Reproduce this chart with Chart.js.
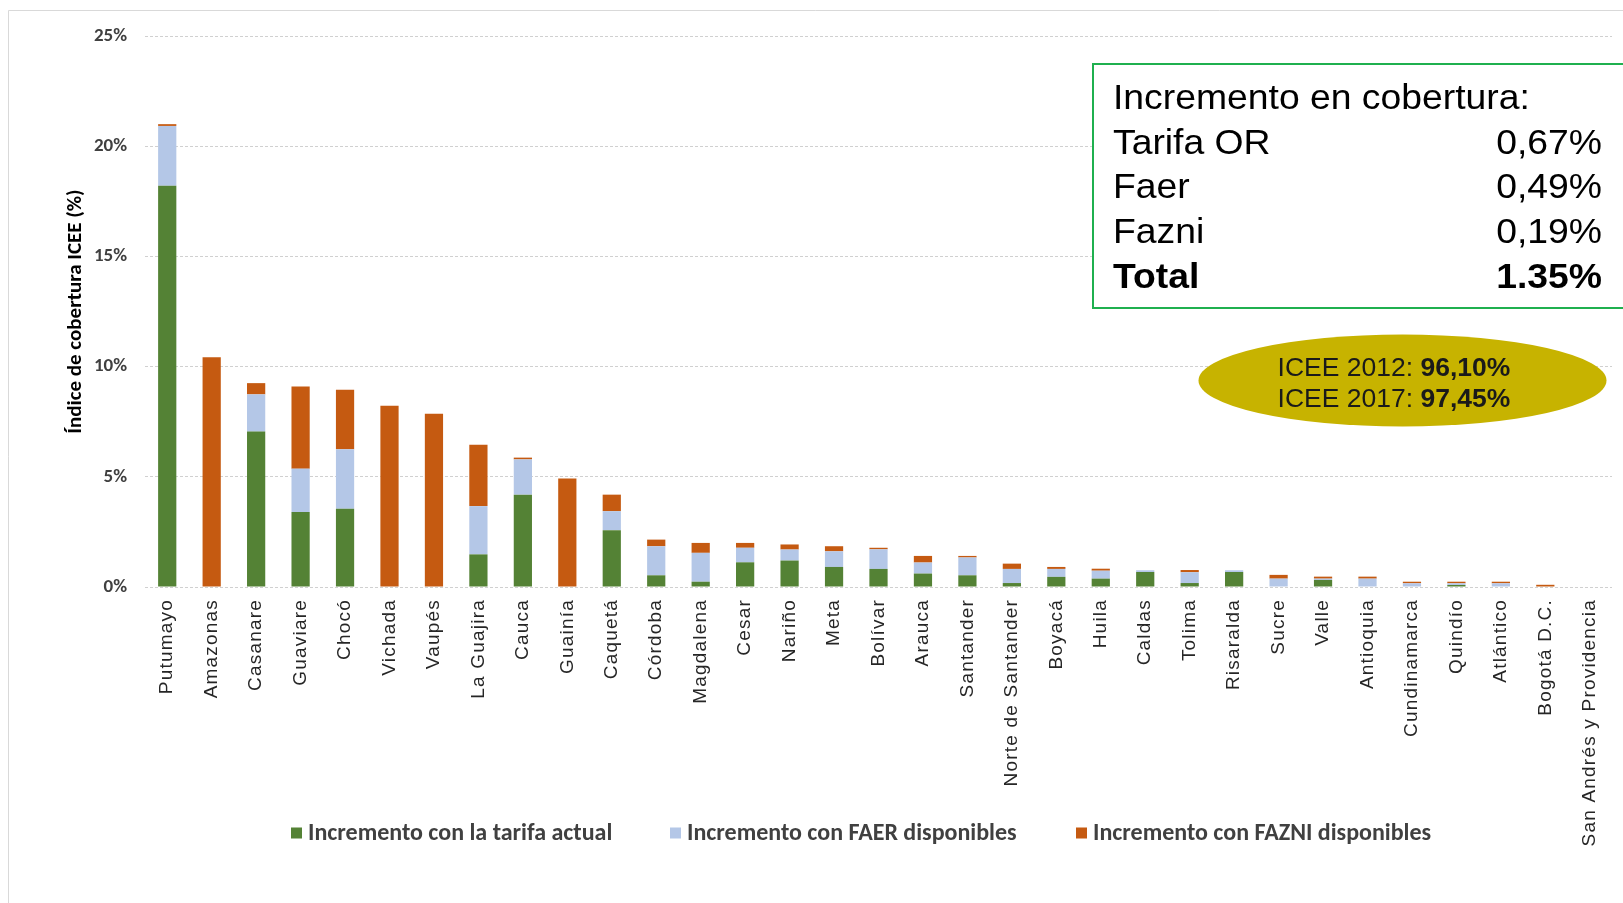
<!DOCTYPE html>
<html>
<head>
<meta charset="utf-8">
<script src="https://cdn.jsdelivr.net/npm/chart.js@4.4.1/dist/chart.umd.min.js"></script>
<style>
  html, body { margin: 0; padding: 0; background: #ffffff; }
  #wrap { width: 1623px; height: 903px; position: relative; }
</style>
</head>
<body>
<div id="wrap"><canvas id="chart"></canvas></div>
<script>
// Departamentos, ordenados por incremento total de cobertura
const categories = ['Putumayo', 'Amazonas', 'Casanare', 'Guaviare', 'Chocó', 'Vichada', 'Vaupés',
  'La Guajira', 'Cauca', 'Guainía', 'Caquetá', 'Córdoba', 'Magdalena', 'Cesar', 'Nariño', 'Meta',
  'Bolívar', 'Arauca', 'Santander', 'Norte de Santander', 'Boyacá', 'Huila', 'Caldas', 'Tolima',
  'Risaralda', 'Sucre', 'Valle', 'Antioquia', 'Cundinamarca', 'Quindío', 'Atlántico', 'Bogotá D.C.',
  'San Andrés y Providencia'];

// Incremento (puntos porcentuales) por fuente de financiación
const tarifaActual = [18.20, 0, 7.05, 3.40, 3.55, 0, 0, 1.48, 4.19, 0, 2.58, 0.53, 0.24, 1.12, 1.20, 0.91,
  0.82, 0.61, 0.53, 0.18, 0.46, 0.38, 0.68, 0.18, 0.68, 0, 0.32, 0, 0, 0.09, 0, 0, 0];
const faerDisponibles = [2.72, 0, 1.69, 1.97, 2.70, 0, 0, 2.19, 1.60, 0, 0.86, 1.32, 1.31, 0.66, 0.50, 0.71,
  0.89, 0.50, 0.81, 0.64, 0.36, 0.36, 0.08, 0.49, 0.08, 0.38, 0.06, 0.38, 0.17, 0.08, 0.17, 0, 0];
const fazniDisponibles = [0.08, 10.42, 0.51, 3.73, 2.70, 8.22, 7.86, 2.78, 0.08, 4.92, 0.75, 0.30, 0.45, 0.22, 0.23, 0.23,
  0.07, 0.30, 0.07, 0.24, 0.09, 0.09, 0, 0.10, 0, 0.17, 0.09, 0.09, 0.07, 0.07, 0.07, 0.10, 0];

const seriesNames = ['Incremento con la tarifa actual', 'Incremento con FAER disponibles', 'Incremento con FAZNI disponibles'];
const seriesColors = ['#548235', '#b4c7e7', '#c55a11'];

const yMin = 0, yMax = 25, yStep = 5;

// Recuadro de resumen
const summaryTitle = 'Incremento en cobertura:';
const summaryLabels = ['Tarifa OR', 'Faer', 'Fazni', 'Total'];
const summaryValues = ['0,67%', '0,49%', '0,19%', '1.35%'];

// Óvalo ICEE
const iceeLabels = ['ICEE 2012: ', 'ICEE 2017: '];
const iceeValues = ['96,10%', '97,45%'];

const uiFont = 'Carlito, Lato, "Open Sans", sans-serif';
const arialFont = '"Liberation Sans", Arial, sans-serif';

const decorations = {
  id: 'decorations',
  beforeDraw(chart) {
    const ctx = chart.ctx;
    ctx.save();
    ctx.fillStyle = '#ffffff';
    ctx.fillRect(0, 0, chart.width, chart.height);
    // marco exterior
    ctx.strokeStyle = '#d9d9d9';
    ctx.lineWidth = 1;
    ctx.beginPath();
    ctx.moveTo(8.5, chart.height);
    ctx.lineTo(8.5, 10.5);
    ctx.lineTo(chart.width, 10.5);
    ctx.stroke();
    ctx.restore();
  },
  afterDraw(chart) {
    const ctx = chart.ctx;
    const xs = chart.scales.x;

    // etiquetas de categoría, verticales
    ctx.save();
    ctx.font = '19px ' + arialFont;
    ctx.fillStyle = '#262626';
    ctx.textAlign = 'right';
    ctx.textBaseline = 'middle';
    if ('letterSpacing' in ctx) ctx.letterSpacing = '1.2px';
    chart.data.labels.forEach((lab, i) => {
      const x = xs.getPixelForValue(i);
      ctx.save();
      ctx.translate(x, 599);
      ctx.rotate(-Math.PI / 2);
      ctx.fillText(lab, 0, 0);
      ctx.restore();
    });
    ctx.restore();

    // leyenda
    ctx.save();
    const legendX = [291, 670, 1076];
    const legendY = 833;
    ctx.font = 'bold 24px ' + uiFont;
    ctx.textBaseline = 'middle';
    ctx.textAlign = 'left';
    chart.data.datasets.forEach((ds, i) => {
      ctx.fillStyle = ds.backgroundColor;
      ctx.fillRect(legendX[i], legendY - 5.5, 11, 11);
      ctx.fillStyle = '#404040';
      ctx.fillText(ds.label, legendX[i] + 17, legendY + 1);
    });
    ctx.restore();

    // recuadro de resumen
    ctx.save();
    ctx.fillStyle = '#ffffff';
    ctx.fillRect(1093, 64, 560, 244);
    ctx.strokeStyle = '#1fb04f';
    ctx.lineWidth = 2;
    ctx.strokeRect(1093, 64, 560, 244);
    ctx.fillStyle = '#000000';
    ctx.textBaseline = 'alphabetic';
    const baselines = [109, 154, 198, 243, 288];
    const sx = 1.066;
    const drawText = (txt, x, y, align) => {
      ctx.save();
      ctx.translate(x, y);
      ctx.scale(sx, 1);
      ctx.textAlign = align;
      ctx.fillText(txt, 0, 0);
      ctx.restore();
    };
    ctx.font = '35px ' + arialFont;
    drawText(summaryTitle, 1113, baselines[0], 'left');
    summaryLabels.forEach((lab, i) => {
      const bold = i === summaryLabels.length - 1;
      ctx.font = (bold ? 'bold ' : '') + '35px ' + arialFont;
      drawText(lab, 1113, baselines[i + 1], 'left');
      drawText(summaryValues[i], 1602, baselines[i + 1], 'right');
    });
    ctx.restore();

    // óvalo ICEE
    ctx.save();
    ctx.fillStyle = '#c7b300';
    ctx.beginPath();
    ctx.ellipse(1402.5, 380.5, 204, 46, 0, 0, Math.PI * 2);
    ctx.fill();
    ctx.fillStyle = '#1a1a1a';
    ctx.textBaseline = 'alphabetic';
    const iceeBase = [375.5, 407];
    iceeLabels.forEach((lab, i) => {
      ctx.font = '26.5px ' + arialFont;
      const w1 = ctx.measureText(lab).width;
      ctx.font = 'bold 26.5px ' + arialFont;
      const w2 = ctx.measureText(iceeValues[i]).width;
      const x0 = 1394 - (w1 + w2) / 2;
      ctx.textAlign = 'left';
      ctx.font = '26.5px ' + arialFont;
      ctx.fillText(lab, x0, iceeBase[i]);
      ctx.font = 'bold 26.5px ' + arialFont;
      ctx.fillText(iceeValues[i], x0 + w1, iceeBase[i]);
    });
    ctx.restore();
  }
};

const datasets = [tarifaActual, faerDisponibles, fazniDisponibles].map((values, i) => ({
  label: seriesNames[i],
  data: values,
  backgroundColor: seriesColors[i],
  borderWidth: 0,
  barPercentage: 0.41,
  categoryPercentage: 1.0
}));

new Chart(document.getElementById('chart'), {
  type: 'bar',
  data: { labels: categories, datasets },
  options: {
    responsive: true,
    maintainAspectRatio: false,
    animation: false,
    devicePixelRatio: 1,
    layout: { padding: { top: 36, right: 11, left: 0, bottom: 0 } },
    plugins: {
      legend: { display: false },
      tooltip: { enabled: false },
      title: { display: false }
    },
    scales: {
      x: {
        stacked: true,
        ticks: { display: false },
        grid: { display: false },
        border: { display: false },
        afterFit(scale) { scale.height = 316; }
      },
      y: {
        stacked: true,
        min: yMin,
        max: yMax,
        ticks: {
          stepSize: yStep,
          callback: v => v + '%',
          font: { family: uiFont, size: 19, weight: 'bold' },
          color: '#404040',
          padding: 18
        },
        grid: { color: '#d0d0d0', lineWidth: 1, drawTicks: false },
        border: { display: false, dash: [3, 2] },
        title: {
          display: true,
          text: 'Índice de cobertura ICEE (%)',
          font: { family: uiFont, size: 21, weight: 'bold' },
          color: '#000000',
          padding: { top: 63, bottom: 0 }
        },
        afterFit(scale) { scale.width = 145; }
      }
    }
  },
  plugins: [decorations]
});
</script>
</body>
</html>
